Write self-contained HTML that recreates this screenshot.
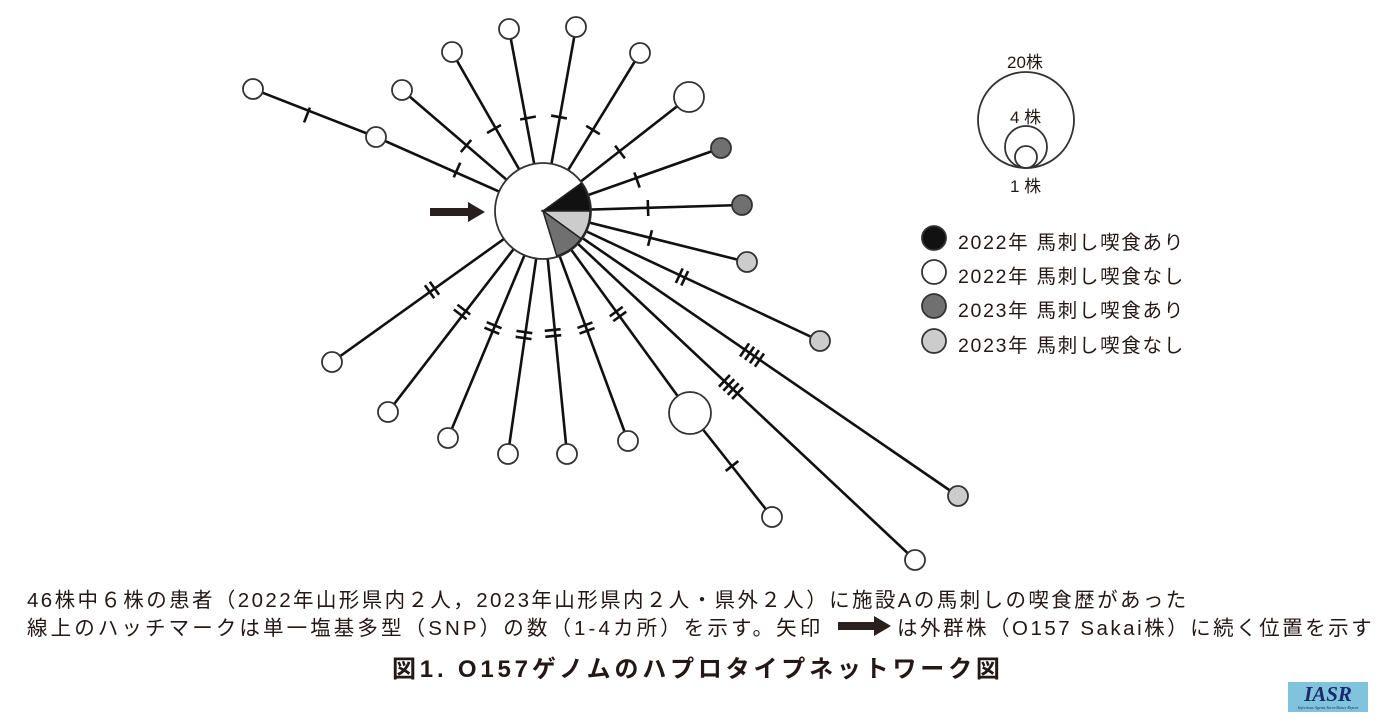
<!DOCTYPE html>
<html><head><meta charset="utf-8">
<style>
body{margin:0;background:#fff;width:1400px;height:725px;overflow:hidden;position:relative;font-family:"Liberation Sans","Noto Sans CJK JP",sans-serif;color:#231815}
.t{position:absolute;white-space:nowrap}
</style></head><body>
<svg id="s" width="1400" height="725" style="position:absolute;left:0;top:0"></svg>
<div class="t" style="left:1007px;top:48px;font-size:17px">20株</div>
<div class="t" style="left:1010px;top:103px;font-size:17px">4 株</div>
<div class="t" style="left:1010px;top:172px;font-size:17px">1 株</div>
<div class="t" style="left:958px;top:226px;font-size:19.5px;letter-spacing:1.7px">2022年 馬刺し喫食あり</div>
<div class="t" style="left:958px;top:260px;font-size:19.5px;letter-spacing:1.7px">2022年 馬刺し喫食なし</div>
<div class="t" style="left:958px;top:294px;font-size:19.5px;letter-spacing:1.7px">2023年 馬刺し喫食あり</div>
<div class="t" style="left:958px;top:329px;font-size:19.5px;letter-spacing:1.7px">2023年 馬刺し喫食なし</div>
<div class="t" style="left:27px;top:583px;font-size:20.5px;letter-spacing:2.4px">46株中６株の患者（2022年山形県内２人，2023年山形県内２人・県外２人）に施設Aの馬刺しの喫食歴があった</div>
<div class="t" style="left:27px;top:611px;font-size:20.5px;letter-spacing:3.1px">線上のハッチマークは単一塩基多型（SNP）の数（1-4カ所）を示す。矢印</div>
<div class="t" style="left:897px;top:611px;font-size:20.5px;letter-spacing:2.5px">は外群株（O157 Sakai株）に続く位置を示す</div>
<div class="t" style="left:392px;top:649px;font-size:24px;font-weight:bold;letter-spacing:3.8px">図1. O157ゲノムのハプロタイプネットワーク図</div>
<div class="t" style="left:1288px;top:682px;width:80px;height:30px;background:#7fc4dc;text-align:center;font-family:'Liberation Serif',serif;font-style:italic;font-weight:bold;font-size:21px;color:#1a2a6c;line-height:24px">IASR<div style="font-size:4px;line-height:4px;font-weight:normal">Infectious Agents Surveillance Report</div></div>
<script>
const s=document.getElementById('s');let h='';
const C=[543,211],R=48;
function L(a,b,w){h+=`<line x1="${a[0]}" y1="${a[1]}" x2="${b[0]}" y2="${b[1]}" stroke="#111" stroke-width="${w||2.6}"/>`}
function hat(a,b,p,n){const dx=b[0]-a[0],dy=b[1]-a[1],l=Math.hypot(dx,dy),ux=dx/l,uy=dy/l,px=-uy,py=ux;
 for(let i=0;i<n;i++){const o=(i-(n-1)/2)*6;const cx=p[0]+ux*o,cy=p[1]+uy*o;
 L([cx-px*8,cy-py*8],[cx+px*8,cy+py*8],2.6)}}
function seg(a,b,p,n){L(a,b);if(n)hat(a,b,p,n)}
const E=[
[[402,90],[466,146],1],[[452,52],[494,129],1],[[509,29],[528,118],1],[[576,27],[559,117],1],
[[640,53],[593,130],1],[[689,97],[620,152],1],[[721,148],[637,180],1],[[742,205],[648,208],1],
[[747,262],[650,238],1],[[820,341],[682,277],2],[[958,496],[752,355],4],[[915,560],[731,387],4],
[[690,413],[618,314],2],[[628,441],[586,328],2],[[567,454],[553,333],2],[[508,454],[524,335],2],
[[448,438],[493,328],2],[[388,412],[462,312],2],[[332,362],[432,290],2]];
seg([253,89],[376,137],[307,115],1);seg([376,137],C,[457,170],1);
seg([690,413],[772,517],[732,466],1);
E.forEach(e=>seg(C,e[0],e[1],e[2]));
function ci(p,r,f){h+=`<circle cx="${p[0]}" cy="${p[1]}" r="${r}" fill="${f}" stroke="#333" stroke-width="1.8"/>`}
const cols={d:'#707070',l:'#cccccc',w:'#fff'};
[[253,89],[376,137],[402,90],[452,52],[509,29],[576,27],[640,53],[332,362],[388,412],[448,438],[508,454],[567,454],[628,441],[772,517],[915,560]].forEach(p=>ci(p,10,'#fff'));
ci([689,97],15,'#fff');ci([690,413],21,'#fff');
ci([721,148],10,cols.d);ci([742,205],10,cols.d);ci([747,262],10,cols.l);ci([820,341],10,cols.l);ci([958,496],10,cols.l);
ci(C,R,'#fff');
function wedge(a1,a2,f){const r=R-1,p1=[C[0]+r*Math.cos(a1*Math.PI/180),C[1]+r*Math.sin(a1*Math.PI/180)],p2=[C[0]+r*Math.cos(a2*Math.PI/180),C[1]+r*Math.sin(a2*Math.PI/180)];
h+=`<path d="M${C[0]} ${C[1]}L${p1[0]} ${p1[1]}A${r} ${r} 0 0 1 ${p2[0]} ${p2[1]}Z" fill="${f}" stroke="#222" stroke-width="1.5"/>`}
wedge(-36,0,'#111');wedge(0,36,'#ccc');wedge(36,73,'#707070');
h+=`<path d="M430 208H468V202L485 212L468 222V216H430Z" fill="#2a1f1f"/>`;
h+=`<path d="M838 622H874V616L891 626L874 636V630H838Z" fill="#2a1f1f"/>`;
ci([1026,120],48,'none');ci([1026,147],21,'none');ci([1026,157],11,'none');
[['#111',238],['#fff',272],['#707070',306],['#ccc',341]].forEach(a=>ci([934,a[1]],12,a[0]));
s.innerHTML=h;
</script>
</body></html>
